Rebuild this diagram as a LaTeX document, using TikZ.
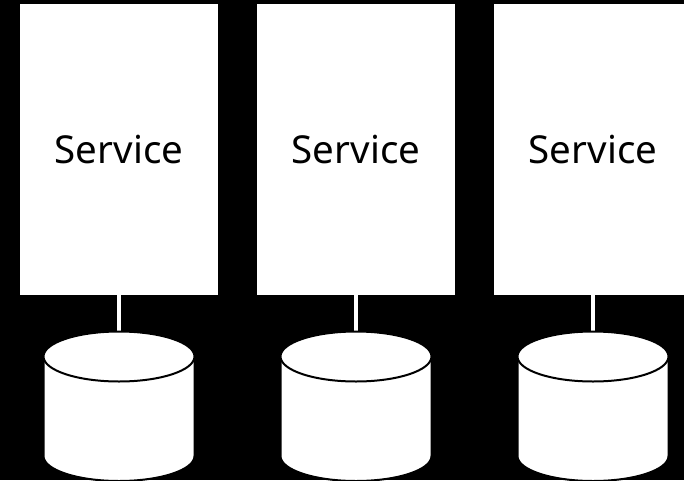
\documentclass[tikz,border=0pt]{standalone}
\usepackage{fontspec}
\setmainfont{Noto Sans}
\tikzset{
  servicebox/.style={fill=white, minimum width=3.96cm, minimum height=5.82cm, inner sep=0, font=\fontsize{21.9pt}{26pt}\selectfont},
  dbcyl/.style={draw=black, fill=white, line width=.04cm},
  link/.style={draw=white, line width=.08cm}
}
\begin{document}
\begin{tikzpicture}
\useasboundingbox (0,0) rectangle (13.68,9.6);
\fill[black] (0,0) rectangle (13.68,9.6);
\foreach \i/\x in {1/2.38, 2/7.12, 3/11.86}{
  \node[servicebox] (service\i) at (\x,6.61) {Service};
  \coordinate (db\i) at (\x,2.96);
  \draw[link] (service\i.south)--(db\i);
  \begin{scope}[xshift=\x cm]
  % body, then the lid on top
  \draw[dbcyl] (-1.51,2.47)--(-1.51,.48) arc[start angle=180, end angle=360, x radius=1.51, y radius=.5]--(1.51,2.47);
  \draw[dbcyl] (0,2.47) ellipse[x radius=1.51, y radius=.5];
  \end{scope}
}
\end{tikzpicture}
\end{document}
